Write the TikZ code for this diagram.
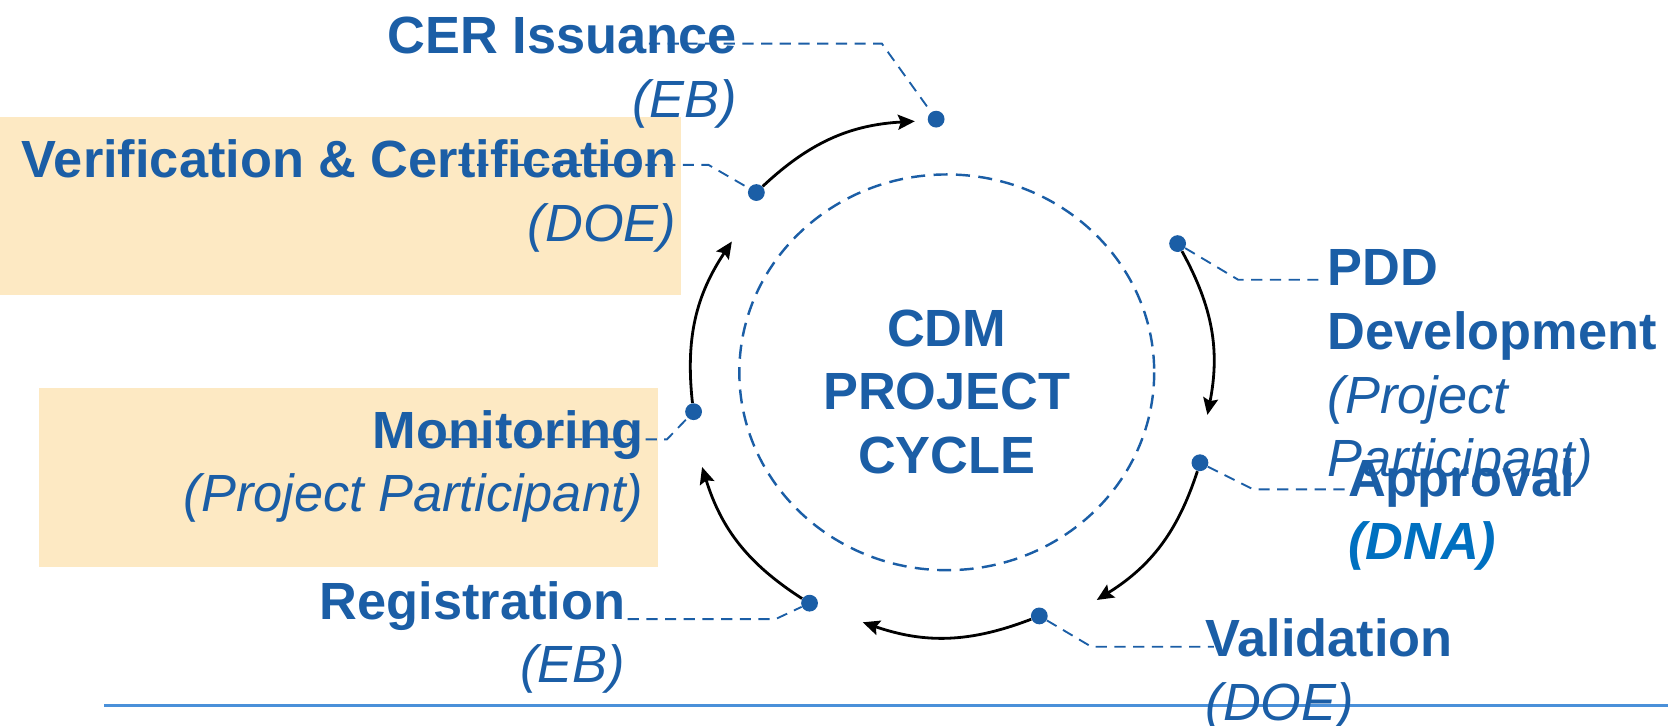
\documentclass[tikz,border=0pt]{standalone}
\usepackage{fontspec}
\setmainfont{Liberation Sans}
\usepackage{xcolor}
\usetikzlibrary{arrows.meta}
\definecolor{cdmblue}{HTML}{1B5EA6}
\definecolor{dnablue}{HTML}{0070C0}
\definecolor{beige}{HTML}{FDE9C3}
\definecolor{rulecol}{HTML}{4A90D9}

\begin{document}
\begin{tikzpicture}[x=0.02cm, y=-0.02cm,
    stage/.style={inner sep=0pt, text=cdmblue, font=\fontsize{28}{34}\selectfont\bfseries},
    dot/.style={circle, fill=cdmblue, inner sep=0pt, minimum size=9pt},
    leader/.style={cdmblue, line width=1pt, dash pattern=on 6pt off 4pt},
    flow/.style={-{Stealth[length=9pt,width=8pt,inset=1.5pt]}, line width=1.5pt, bend left=20}]
  \useasboundingbox (0,0) rectangle (1568,682);
  \fill[beige] (0,110) rectangle (640,277);
  \fill[beige] (37,365) rectangle (619,533);
  \draw[rulecol, line width=1.6pt] (98,663) -- (1568,663);
  \draw[cdmblue, line width=1.3pt, dash pattern=on 7.5pt off 4.5pt] (890,350) ellipse [x radius=195, y radius=186];

  \node[stage, anchor=base, align=center] (cdm) at (890,445) {CDM\\PROJECT\\CYCLE};

  \node[stage, anchor=base east, align=right] (cer) at (693,110) {CER Issuance\\{\mdseries\itshape (EB)}};
  \node[stage, anchor=base east, align=right] (ver) at (636,227) {Verification \& Certification\\{\mdseries\itshape (DOE)}};
  \node[stage, anchor=base east, align=right] (mon) at (605,481) {Monitoring\\{\mdseries\itshape (Project Participant)}};
  \node[stage, anchor=base east, align=right] (reg) at (588,642) {Registration\\{\mdseries\itshape (EB)}};
  \node[stage, anchor=base west, align=left] (val) at (1133,677) {Validation\\{\mdseries\itshape (DOE)}};
  \node[stage, anchor=base west, align=left] (app) at (1267,526) {Approval\\{\color{dnablue}\itshape (DNA)}};
  \node[stage, anchor=base west, align=left] (pdd) at (1248,448) {PDD\\Development\\{\mdseries\itshape (Project}\\{\mdseries\itshape Participant)}};

  \node[dot] (d-cer) at (880,112) {};
  \node[dot] (d-ver) at (711,181) {};
  \node[dot] (d-mon) at (652,387) {};
  \node[dot] (d-reg) at (761,567) {};
  \node[dot] (d-val) at (977,579) {};
  \node[dot] (d-app) at (1128,435) {};
  \node[dot] (d-pdd) at (1107,229) {};

  \coordinate (tip-cer) at (860,114);
  \coordinate (tip-app) at (1135,390);
  \coordinate (tip-val) at (1031,564);
  \coordinate (tip-reg) at (811,585);
  \coordinate (tip-mon) at (660,439);
  \coordinate (tip-ver) at (688,227);

  \draw[flow] (d-ver) to (tip-cer);
  \draw[flow] (d-pdd) to (tip-app);
  \draw[flow] (d-app) to (tip-val);
  \draw[flow] (d-val) to (tip-reg);
  \draw[flow] (d-reg) to (tip-mon);
  \draw[flow] (d-mon) to (tip-ver);

  \draw[leader] (610,41) -- (829,41) -- (d-cer);
  \draw[leader] (431,155) -- (666,155) -- (d-ver);
  \draw[leader] (396,413) -- (627,413) -- (d-mon);
  \draw[leader] (590,582) -- (729,582) -- (d-reg);
  \draw[leader] (d-val) -- (1026,608) -- (1141,608);
  \draw[leader] (d-app) -- (1178,460) -- (1265,460);
  \draw[leader] (d-pdd) -- (1164,263) -- (1245,263);
\end{tikzpicture}
\end{document}
